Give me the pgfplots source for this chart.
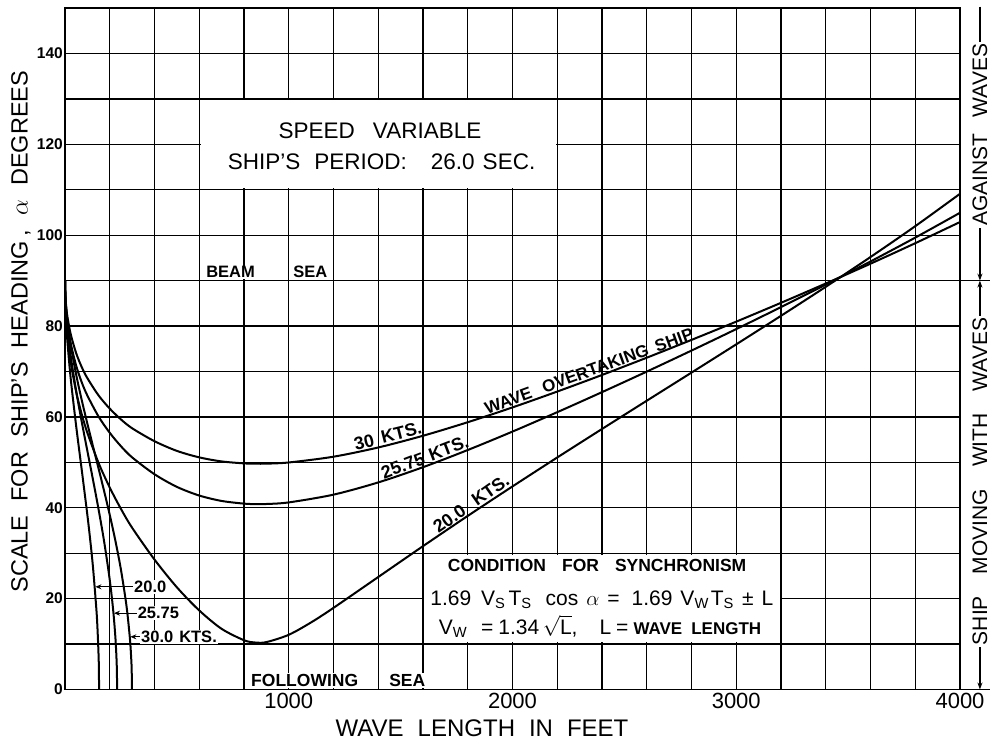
\documentclass[border=0pt]{standalone}
\usepackage{pgfplots}
\pgfplotsset{compat=1.18}
\usepackage{fontspec}
\setmainfont{Liberation Sans}
\usetikzlibrary{arrows.meta}
\newcommand{\fs}[1]{\fontsize{#1}{#1}\selectfont}
\begin{document}
\begin{tikzpicture}[x=1pt,y=1pt]
\useasboundingbox (0,0) rectangle (990,742);
\begin{axis}[
  at={(65pt,52.5pt)}, anchor=south west,
  scale only axis, width=895pt, height=681.5pt,
  xmin=0, xmax=4000, ymin=0, ymax=150,
  clip=false,
  xtick={1000,2000,3000,4000},
  xticklabels={1000,2000,3000,4000},
  minor xtick={200,400,600,800,1200,1400,1600,1800,2200,2400,2600,2800,3200,3400,3600,3800},
  ytick={0,20,...,140},
  yticklabels={0,20,40,60,80,100,120,140},
  minor ytick={10,30,...,150},
  grid=both,
  major grid style={black, line width=1.3pt},
  minor grid style={black, line width=1.3pt},
  axis line style={black, line width=1.5pt},
  major tick length=0pt, minor tick length=0pt,
  xticklabel style={font=\fs{22}},
  yticklabel style={font=\fs{15.5}\bfseries, inner sep=2pt},
  xlabel={WAVE\hspace{14pt}LENGTH\hspace{14pt}IN\hspace{14pt}FEET},
  xlabel style={font=\fs{24}, at={(axis description cs:0.466,-0.0565)}, anchor=center},
  ylabel={SCALE\hspace{14pt}FOR\hspace{14pt}SHIP'S\hspace{14pt}HEADING\hspace{5pt},\hspace{14pt}$\alpha$\hspace{14pt}DEGREES},
  ylabel style={font=\fs{23.5}, at={(axis description cs:-0.0492,0.525)}, anchor=center},
]
% white areas inside the two text panels
\addplot[draw=none, fill=white, forget plot] coordinates {(606,110.35) (2194,110.35) (2194,129.65) (606,129.65)} -- cycle;
\addplot[draw=none, fill=white, forget plot] coordinates {(1606,10.35) (3194,10.35) (3194,29.65) (1606,29.65)} -- cycle;

% 20.0 kts, wave overtaking ship
\addplot[black, line width=2pt, smooth] coordinates {
(0,90)(2,84.69)(5,81.71)(10,78.43)(25,72.25)(50,65.51)(75,60.54)(100,56.50)(150,49.87)(200,44.45)(250,39.76)(300,35.6)(400,28.6)(500,22.5)(600,17.4)(700,13.35)(800,10.85)(850,10.34)(900,10.43)(1000,12.04)(1100,14.77)(1200,17.97)(1400,24.76)(1600,31.55)(1800,38.21)(2000,44.7)(2200,51.07)(2400,57.34)(2600,63.56)(2800,69.75)(3000,75.97)(3200,82.25)(3400,88.63)(3600,95.19)(3800,101.98)(4000,109.11)};
% 25.75 kts
\addplot[black, line width=2pt, smooth] coordinates {
(0,90)(2,85.88)(5,83.57)(10,81.04)(25,76.33)(50,71.26)(75,67.59)(100,64.70)(150,60.08)(200,56.50)(250,53.55)(300,51.09)(400,47.38)(500,44.60)(600,42.69)(700,41.50)(800,40.91)(850,40.81)(900,40.83)(1000,41.18)(1200,42.89)(1400,45.58)(1600,48.93)(1800,52.71)(2000,56.77)(2200,61.04)(2400,65.45)(2600,69.97)(2800,74.60)(3000,79.33)(3200,84.17)(3400,89.12)(3600,94.21)(3800,99.46)(4000,104.93)};
% 30 kts
\addplot[black, line width=2pt, smooth] coordinates {
(0,90)(2,86.47)(5,84.49)(10,82.32)(25,78.31)(50,74.01)(75,70.94)(100,68.53)(150,64.73)(200,61.82)(250,59.45)(300,57.50)(400,54.65)(500,52.52)(600,51.09)(700,50.20)(800,49.77)(850,49.70)(900,49.71)(1000,49.97)(1200,51.24)(1400,53.27)(1600,55.85)(1800,58.83)(2000,62.09)(2200,65.58)(2400,69.23)(2600,73.03)(2800,76.95)(3000,80.97)(3200,85.11)(3400,89.36)(3600,93.72)(3800,98.23)(4000,102.89)};

% steep curves (ship overtaking)
\addplot[black, line width=2pt, smooth] coordinates {
(0,90)(2,84.43)(5,81.05)(10,77.10)(25,68.69)(50,57.95)(75,48.27)(100,38.4)(112,33.23)(125,26.96)(140,17.82)(145,13.64)(150,7.58)(151.5,4.39)(152.27,0)};
\addplot[black, line width=2pt, smooth] coordinates {
(0,90)(2,85.68)(5,83.06)(10,80.02)(25,73.60)(50,65.66)(75,58.87)(100,52.50)(125,46.19)(150,39.66)(175,32.54)(200,24.12)(215,17.62)(225,11.64)(230,7.02)(232,3.90)(232.9,0)};
\addplot[black, line width=2pt, smooth] coordinates {
(0,90)(2,86.29)(5,84.05)(10,81.44)(25,75.98)(50,69.28)(75,63.66)(100,58.50)(125,53.54)(150,48.64)(175,43.64)(200,38.43)(225,32.79)(250,26.38)(275,18.33)(290,11.29)(296,6.77)(298,4.33)(299.41,0)};

% title panel
\node[font=\fs{22.5}] at (axis cs:1408,123.0) {SPEED\hspace{18pt}VARIABLE};
\node[font=\fs{22.5}] at (axis cs:1415,116.2) {SHIP'S\hspace{14pt}PERIOD:\hspace{24pt}26.0\hspace{8pt}SEC.};

% condition panel
\node[font=\fs{17.5}\bfseries, anchor=base] at (axis cs:2378,25.9) {CONDITION\hspace{16pt}FOR\hspace{16pt}SYNCHRONISM};
\node[font=\fs{21}, anchor=base] at (axis cs:2399,18.5) {1.69\hspace{10pt}V\textsubscript{S}\hspace{3pt}T\textsubscript{S}\hspace{14pt}cos\hspace{8pt}$\alpha$\hspace{8pt}=\hspace{12pt}1.69\hspace{8pt}V\textsubscript{W}\hspace{2pt}T\textsubscript{S}\hspace{8pt}±\hspace{8pt}L};
\node[font=\fs{21}, anchor=base] at (axis cs:2391,12.2) {V\textsubscript{W}\hspace{14pt}=\hspace{5pt}1.34\,$\sqrt{\mbox{L}}$,\hspace{22pt}L\hspace{5pt}=\hspace{5pt}{\fs{17}\bfseries WAVE\hspace{9pt}LENGTH}};

% curve labels
\node[font=\fs{18}\bfseries, rotate=14, anchor=south, inner sep=2pt] at (axis cs:1452,53.94) {30\hspace{8pt}KTS.};
\node[font=\fs{17}\bfseries, rotate=20, anchor=south, inner sep=2pt] at (axis cs:2355,68.41) {WAVE\hspace{12pt}OVERTAKING\hspace{8pt}SHIP};
\node[font=\fs{18}\bfseries, rotate=21, anchor=south, inner sep=2pt] at (axis cs:1622,49.35) {25.75\hspace{6pt}KTS.};
\node[font=\fs{18}\bfseries, rotate=35, anchor=south, inner sep=2pt] at (axis cs:1837,39.41) {20.0\hspace{12pt}KTS.};

% steep-curve labels with arrows
\node[font=\fs{16.5}\bfseries, anchor=west, fill=white, inner sep=1pt] (a) at (axis cs:304,22.6) {20.0};
\draw[line width=1.2pt, -{Stealth[length=6pt,width=5pt]}] (a.west) -- (axis cs:136,22.6);
\node[font=\fs{16.5}\bfseries, anchor=west, fill=white, inner sep=1pt] (b) at (axis cs:320,16.8) {25.75};
\draw[line width=1.2pt, -{Stealth[length=6pt,width=5pt]}] (b.west) -- (axis cs:219,16.8);
\node[font=\fs{16.5}\bfseries, anchor=west, fill=white, inner sep=1pt] (c) at (axis cs:335,11.6) {30.0\hspace{6pt}KTS.};
\draw[line width=1.2pt, -{Stealth[length=6pt,width=5pt]}] (c.west) -- (axis cs:292,11.6);

% beam sea / following sea
\node[font=\fs{16.5}\bfseries, anchor=south west, fill=white, inner sep=1pt, yshift=1.5pt] at (axis cs:626,90) {BEAM};
\node[font=\fs{16.5}\bfseries, anchor=south west, fill=white, inner sep=1pt, yshift=1.5pt] at (axis cs:1015,90) {SEA};
\node[font=\fs{17.5}\bfseries, anchor=south west, fill=white, inner sep=1pt, yshift=1.5pt] at (axis cs:827,0) {FOLLOWING};
\node[font=\fs{17.5}\bfseries, anchor=south west, fill=white, inner sep=1pt, yshift=1.5pt] at (axis cs:1444,0) {SEA};

% right-hand dimension lines
\draw[line width=1.3pt] (axis cs:4000,90) -- (axis cs:4134,90);
\draw[line width=1.3pt] (axis cs:4000,0) -- (axis cs:4134,0);
\draw[line width=1.3pt, -{Stealth[length=7pt,width=5pt]}] (axis cs:4089,150.3) -- (axis cs:4089,90);
\draw[line width=1.3pt, {Stealth[length=7pt,width=5pt]}-{Stealth[length=7pt,width=5pt]}] (axis cs:4089,90) -- (axis cs:4089,0);
\node[rotate=90, fill=white, font=\fs{21}, inner sep=2pt] at (axis cs:4089,122.1) {AGAINST\hspace{16pt}WAVES};
\node[rotate=90, fill=white, font=\fs{21}, inner sep=2pt] at (axis cs:4089,45.8) {SHIP\hspace{22pt}MOVING\hspace{22pt}WITH\hspace{22pt}WAVES};
\end{axis}
\end{tikzpicture}
\end{document}
